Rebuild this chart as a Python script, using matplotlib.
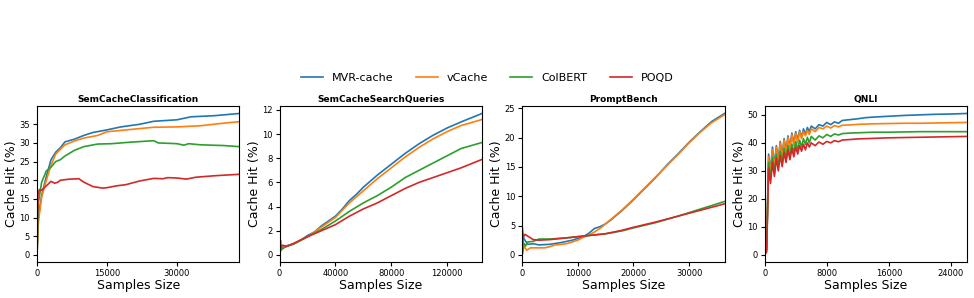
import matplotlib
matplotlib.use("Agg")
import matplotlib.pyplot as plt

methods = ["MVR-cache", "vCache", "ColBERT", "POQD"]
colors = ["#1f77b4", "#ff7f0e", "#2ca02c", "#d62728"]

# SemCacheClassification
cls_x = {
    "MVR-cache": [0, 300, 1000, 2000, 3000, 4000, 5000, 6000, 8000, 10000, 12000, 15000, 18000, 22000, 25000, 30000, 33000, 38000, 43400],
    "vCache": [0, 300, 1000, 2000, 3000, 4000, 5000, 6000, 8000, 10000, 13000, 15000, 20000, 25000, 30000, 35000, 40000, 43400],
    "ColBERT": [0, 300, 1000, 2000, 3000, 4000, 5000, 6000, 8000, 10000, 13000, 16000, 20000, 25000, 26000, 30000, 31500, 32500, 35000, 40000, 43400],
    "POQD": [0, 200, 500, 1000, 2000, 3000, 3800, 4500, 5000, 7000, 9000, 10000, 12000, 14000, 15000, 17000, 19000, 22000, 25000, 27000, 28000, 30000, 32000, 34000, 38000, 43400],
}
cls_y = {
    "MVR-cache": [0, 10, 16, 21, 25.5, 27.5, 28.7, 30.3, 31, 32, 32.8, 33.5, 34.3, 35, 35.8, 36.2, 37, 37.3, 37.9],
    "vCache": [0, 9, 15.5, 20, 24, 27, 28.3, 29.5, 30.5, 31.3, 32, 33, 33.6, 34.2, 34.3, 34.6, 35.3, 35.7],
    "ColBERT": [0, 14, 19.5, 22.5, 23.5, 25, 25.5, 26.5, 28, 29, 29.7, 29.8, 30.2, 30.6, 30.0, 29.8, 29.4, 29.8, 29.5, 29.3, 29.0],
    "POQD": [0, 16, 17.5, 17.3, 18.5, 19.7, 19.2, 19.5, 20, 20.3, 20.4, 19.5, 18.3, 17.9, 18, 18.5, 18.8, 19.8, 20.5, 20.4, 20.7, 20.6, 20.3, 20.8, 21.2, 21.6],
}

# SemCacheSearchQueries
sq_x = {
    "MVR-cache": [0, 500, 2000, 5000, 10000, 15000, 20000, 25000, 30000, 35000, 40000, 45000, 50000, 55000, 60000, 70000, 80000, 90000, 100000, 110000, 120000, 130000, 145000],
    "vCache": [0, 500, 2000, 5000, 10000, 15000, 20000, 25000, 30000, 35000, 40000, 50000, 60000, 70000, 80000, 90000, 100000, 110000, 120000, 130000, 145000],
    "ColBERT": [0, 500, 2000, 5000, 10000, 20000, 30000, 40000, 50000, 60000, 70000, 80000, 90000, 100000, 110000, 120000, 130000, 145000],
    "POQD": [0, 300, 600, 1000, 2000, 5000, 10000, 20000, 30000, 40000, 50000, 60000, 70000, 80000, 90000, 100000, 110000, 120000, 130000, 145000],
}
sq_y = {
    "MVR-cache": [0, 0.5, 0.6, 0.75, 0.9, 1.2, 1.6, 1.9, 2.4, 2.8, 3.2, 3.8, 4.5, 5.0, 5.6, 6.6, 7.5, 8.4, 9.2, 9.9, 10.5, 11.0, 11.7],
    "vCache": [0, 0.4, 0.6, 0.7, 0.9, 1.2, 1.5, 1.9, 2.3, 2.7, 3.1, 4.3, 5.3, 6.3, 7.2, 8.1, 8.9, 9.6, 10.2, 10.7, 11.2],
    "ColBERT": [0, 0.3, 0.5, 0.7, 0.9, 1.5, 2.1, 2.8, 3.6, 4.3, 4.9, 5.6, 6.4, 7.0, 7.6, 8.2, 8.8, 9.3],
    "POQD": [1.7, 0.3, 1.2, 0.5, 0.8, 0.7, 0.95, 1.5, 2.0, 2.5, 3.2, 3.8, 4.3, 4.9, 5.5, 6.0, 6.4, 6.8, 7.2, 7.9],
}

# PromptBench
pb_x = {
    "MVR-cache": [0, 200, 500, 1000, 2000, 3000, 5000, 7000, 9000, 10000, 11000, 12000, 13000, 14000, 15000, 16000, 18000, 20000, 22000, 24000, 26000, 28000, 30000, 32000, 34000, 36370],
    "vCache": [0, 300, 800, 1500, 3000, 4000, 5000, 6000, 8000, 10000, 11000, 12000, 13000, 14000, 15000, 16000, 18000, 20000, 22000, 24000, 26000, 28000, 30000, 32000, 34000, 36370],
    "ColBERT": [0, 300, 600, 1000, 2000, 3000, 5000, 8000, 10000, 12000, 15000, 18000, 20000, 24000, 28000, 32000, 36370],
    "POQD": [0, 200, 500, 1000, 1500, 2000, 3000, 5000, 8000, 10000, 12000, 15000, 18000, 20000, 24000, 28000, 32000, 36370],
}
pb_y = {
    "MVR-cache": [0, 3, 2.5, 1.8, 1.9, 1.7, 1.8, 2.1, 2.5, 2.8, 3.1, 3.7, 4.5, 4.8, 5.3, 6.0, 7.6, 9.4, 11.3, 13.2, 15.3, 17.2, 19.2, 21.0, 22.7, 24.1],
    "vCache": [0, 1.5, 0.8, 1.2, 1.2, 1.2, 1.4, 1.7, 1.9, 2.5, 3.0, 3.4, 3.9, 4.5, 5.3, 6.1, 7.7, 9.5, 11.4, 13.3, 15.2, 17.1, 19.1, 20.9, 22.5, 23.9],
    "ColBERT": [0, 2, 1.5, 2.2, 2.3, 2.7, 2.7, 2.9, 3.1, 3.3, 3.6, 4.1, 4.6, 5.5, 6.6, 7.8, 9.1],
    "POQD": [5, 3, 3.5, 3.2, 2.9, 2.6, 2.5, 2.6, 2.9, 3.1, 3.3, 3.6, 4.2, 4.7, 5.6, 6.6, 7.6, 8.7],
}

# QNLI
qnli_x = [0, 250, 500, 750, 1000, 1250, 1500, 1750, 2000, 2250, 2500, 2750, 3000, 3250, 3500, 3750,
          4000, 4250, 4500, 4750, 5000, 5250, 5500, 5750, 6000,
          6500, 7000, 7500, 8000, 8500, 9000, 9500, 10000,
          11000, 12000, 13000, 14000, 16000, 18000, 20000, 22000, 24000, 26100]
qnli_y = {
    "MVR-cache": [0, 2, 36, 30, 38.5, 32, 39, 34, 40.5, 35.5, 41.5, 37, 42.5, 38.5, 43.5, 40,
                  44, 41, 44.5, 42, 45, 43, 45.5, 44, 46,
                  45, 46.5, 46, 47.3, 46.5, 47.5, 47, 48,
                  48.3, 48.6, 49, 49.2, 49.5, 49.8, 50, 50.2, 50.3, 50.5],
    "vCache": [0, 1.5, 35, 29, 37.5, 31, 38.5, 33, 40, 34.5, 41, 36, 42, 37.5, 43, 39,
               43.5, 40, 44, 41.5, 44, 42.5, 44.5, 43, 45,
               44, 45.5, 45, 46, 45.3, 46.2, 45.7, 46.3,
               46.4, 46.6, 46.7, 46.8, 46.9, 47, 47, 47.1, 47.2, 47.3],
    "ColBERT": [4, 2, 33, 27, 35, 29, 36, 31, 37, 32.5, 38, 34, 39, 35, 39.5, 36.5,
                40.5, 37.5, 41, 38.5, 41.5, 39.5, 42, 40, 42.3,
                41, 42.5, 41.8, 43, 42.3, 43.2, 42.8, 43.3,
                43.5, 43.6, 43.7, 43.8, 43.8, 43.9, 44, 44, 44, 44],
    "POQD": [0, 1, 31, 25.5, 33, 28, 34.5, 30, 35.5, 31.5, 36.5, 33, 37.5, 34, 38, 35,
             38.5, 36, 39, 37, 39.5, 37.5, 40, 38.5, 40,
             39, 40.3, 39.5, 40.5, 40, 40.8, 40.4, 41,
             41.2, 41.4, 41.5, 41.6, 41.8, 41.9, 42, 42.1, 42.2, 42.3],
}

titles = ["SemCacheClassification", "SemCacheSearchQueries", "PromptBench", "QNLI"]
xticks = [[0, 15000, 30000], [0, 40000, 80000, 120000], [0, 10000, 20000, 30000], [0, 8000, 16000, 24000]]
yticks = [range(0, 36, 5), range(0, 13, 2), range(0, 26, 5), range(0, 51, 10)]

fig, axes = plt.subplots(1, 4, figsize=(9.74, 2.98), dpi=100)
plt.subplots_adjust(left=0.038, right=0.993, bottom=0.121, top=0.643, wspace=0.198)

for i, ax in enumerate(axes):
    for m, c in zip(methods, colors):
        if i == 0:
            x, y = cls_x[m], cls_y[m]
        elif i == 1:
            x, y = sq_x[m], sq_y[m]
        elif i == 2:
            x, y = pb_x[m], pb_y[m]
        else:
            x, y = qnli_x, qnli_y[m]
        ax.plot(x, y, color=c, lw=1.2, label=m)
    ax.set_title(titles[i], fontsize=6.5, fontweight="bold", pad=3)
    ax.set_xlabel("Samples Size", fontsize=9, labelpad=1)
    ax.set_ylabel("Cache Hit (%)", fontsize=9, labelpad=1)
    ax.set_xticks(xticks[i])
    ax.set_yticks(list(yticks[i]))
    ax.tick_params(labelsize=6, length=3, pad=2)
    ax.margins(x=0)

handles, labels = axes[0].get_legend_handles_labels()
fig.legend(handles, labels, loc="center", bbox_to_anchor=(0.5, 0.738), ncol=4,
           frameon=False, fontsize=8, columnspacing=2.0)

plt.savefig("out.png", dpi=100)
